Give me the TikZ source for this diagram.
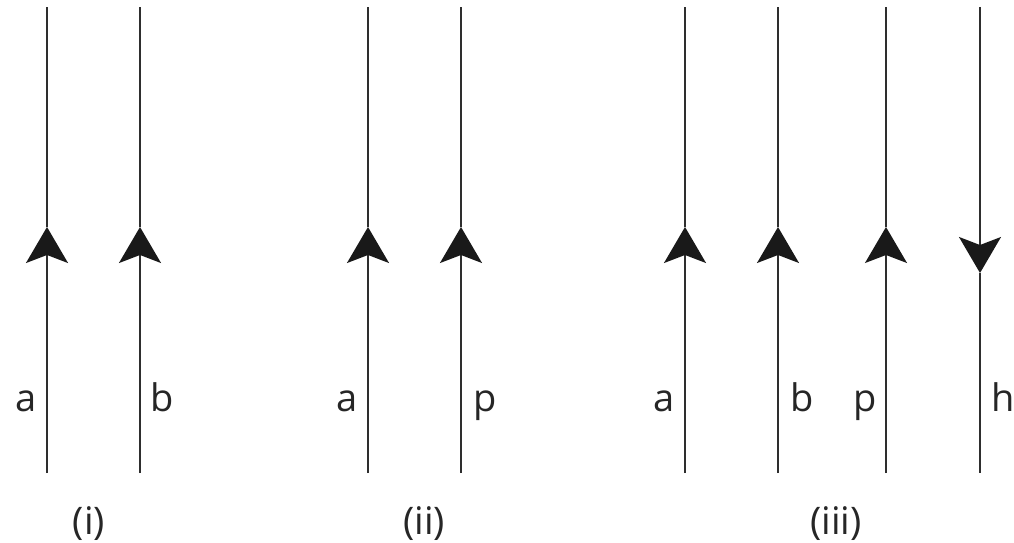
\documentclass[tikz,border=0pt]{standalone}
\usepackage{fontspec}
\setmainfont{Open Sans}
\usetikzlibrary{arrows.meta}
\colorlet{wirecol}{black!82}

\begin{document}
\begin{tikzpicture}[x=1pt, y=-1pt, >={Stealth[length=36pt, width=42pt, inset=8pt, color=black!90]},
    wire/.style={draw=wirecol, line width=1.6pt},
    lbl/.style={font=\fontsize{38}{40}\selectfont, inner sep=0pt, text=black!85}]
    \useasboundingbox (0,0) rectangle (1014,543);

    % Panel (i): two upward lines a and b
    \coordinate (ia-top) at (47,7);   \coordinate (ia-mid) at (47,227);  \coordinate (ia-bot) at (47,473);
    \coordinate (ib-top) at (140,7);  \coordinate (ib-mid) at (140,227); \coordinate (ib-bot) at (140,473);
    \draw[wire, ->] (ia-bot) -- (ia-mid);
    \draw[wire] (ia-mid) -- (ia-top);
    \draw[wire, ->] (ib-bot) -- (ib-mid);
    \draw[wire] (ib-mid) -- (ib-top);
    \node[lbl, anchor=base east] (ia-lbl) at (37,411) {a};
    \node[lbl, anchor=base west] (ib-lbl) at (150,411) {b};
    \node[lbl, anchor=base] (cap-i) at (89,534) {(i)};

    % Panel (ii): lines a and p
    \coordinate (iia-top) at (368,7);  \coordinate (iia-mid) at (368,227); \coordinate (iia-bot) at (368,473);
    \coordinate (iip-top) at (461,7);  \coordinate (iip-mid) at (461,227); \coordinate (iip-bot) at (461,473);
    \draw[wire, ->] (iia-bot) -- (iia-mid);
    \draw[wire] (iia-mid) -- (iia-top);
    \draw[wire, ->] (iip-bot) -- (iip-mid);
    \draw[wire] (iip-mid) -- (iip-top);
    \node[lbl, anchor=base east] (iia-lbl) at (358,411) {a};
    \node[lbl, anchor=base west] (iip-lbl) at (473,411) {p};
    \node[lbl, anchor=base] (cap-ii) at (424,534) {(ii)};

    % Panel (iii): a, b, p upward and h downward
    \coordinate (iiia-top) at (685,7);  \coordinate (iiia-mid) at (685,227); \coordinate (iiia-bot) at (685,473);
    \coordinate (iiib-top) at (778,7);  \coordinate (iiib-mid) at (778,227); \coordinate (iiib-bot) at (778,473);
    \coordinate (iiip-top) at (886,7);  \coordinate (iiip-mid) at (886,227); \coordinate (iiip-bot) at (886,473);
    \coordinate (iiih-top) at (980,7);  \coordinate (iiih-mid) at (980,273); \coordinate (iiih-bot) at (980,473);
    \draw[wire, ->] (iiia-bot) -- (iiia-mid);
    \draw[wire] (iiia-mid) -- (iiia-top);
    \draw[wire, ->] (iiib-bot) -- (iiib-mid);
    \draw[wire] (iiib-mid) -- (iiib-top);
    \draw[wire, ->] (iiip-bot) -- (iiip-mid);
    \draw[wire] (iiip-mid) -- (iiip-top);
    \draw[wire, ->] (iiih-top) -- (iiih-mid);
    \draw[wire] (iiih-mid) -- (iiih-bot);
    \node[lbl, anchor=base east] (iiia-lbl) at (675,411) {a};
    \node[lbl, anchor=base west] (iiib-lbl) at (790,411) {b};
    \node[lbl, anchor=base east] (iiip-lbl) at (877,411) {p};
    \node[lbl, anchor=base west] (iiih-lbl) at (991,411) {h};
    \node[lbl, anchor=base] (cap-iii) at (836,534) {(iii)};
\end{tikzpicture}
\end{document}
